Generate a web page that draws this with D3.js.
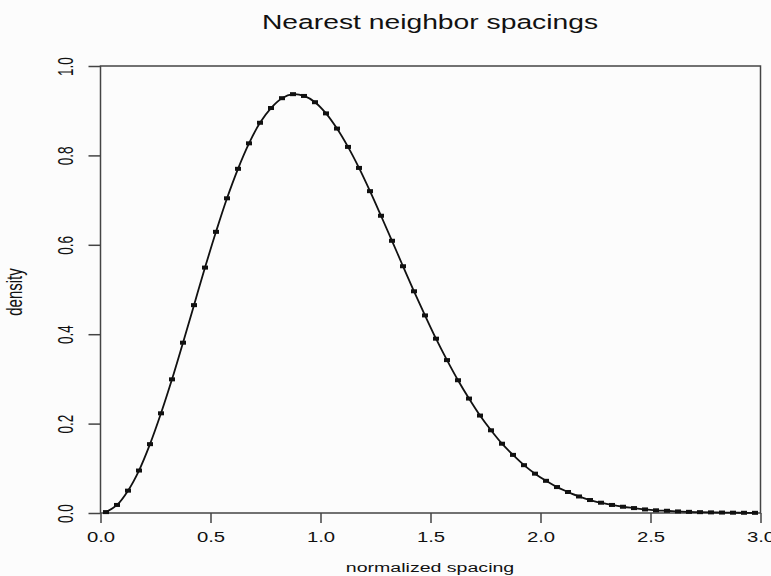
<!DOCTYPE html>
<html>
<head>
<meta charset="utf-8">
<script src="https://cdn.jsdelivr.net/npm/d3@7"></script>
<style>
    body { margin: 0; background: #fcfcfc; }
    text { font-family: "Liberation Sans", Arial, sans-serif; fill: #111; }
</style>
</head>
<body>
<script>
// bin centres of the normalized spacing histogram
var spacing = [0.025, 0.075, 0.125, 0.175, 0.225, 0.275, 0.325, 0.375, 0.425, 0.475,
    0.525, 0.575, 0.625, 0.675, 0.725, 0.775, 0.825, 0.875, 0.925, 0.975,
    1.025, 1.075, 1.125, 1.175, 1.225, 1.275, 1.325, 1.375, 1.425, 1.475,
    1.525, 1.575, 1.625, 1.675, 1.725, 1.775, 1.825, 1.875, 1.925, 1.975,
    2.025, 2.075, 2.125, 2.175, 2.225, 2.275, 2.325, 2.375, 2.425, 2.475,
    2.525, 2.575, 2.625, 2.675, 2.725, 2.775, 2.825, 2.875, 2.925, 2.975];
var density = [0.002, 0.018, 0.050, 0.095, 0.154, 0.223, 0.299, 0.381, 0.465, 0.549,
    0.629, 0.704, 0.770, 0.827, 0.873, 0.906, 0.928, 0.937, 0.933, 0.919,
    0.894, 0.860, 0.819, 0.772, 0.720, 0.665, 0.609, 0.552, 0.496, 0.442,
    0.390, 0.342, 0.297, 0.256, 0.218, 0.185, 0.155, 0.130, 0.107, 0.088,
    0.072, 0.058, 0.047, 0.037, 0.029, 0.023, 0.018, 0.014, 0.011, 0.008,
    0.006, 0.005, 0.0035, 0.0026, 0.0019, 0.0014, 0.0010, 0.0007, 0.0005, 0.0004];
var xTicks = [0, 0.5, 1, 1.5, 2, 2.5, 3];
var yTicks = [0, 0.2, 0.4, 0.6, 0.8, 1.0];

var w = 771, h = 576;
var stretch = 1.45; // the picture is wider than tall, text looks stretched

var svg = d3.select('body')
    .append('svg')
    .attr('width', w)
    .attr('height', h);

var x = d3.scaleLinear()
    .domain([0, 3])
    .range([100.5, 760.5]);
var y = d3.scaleLinear()
    .domain([0, 1])
    .range([513, 66]);

// box
svg.append('rect')
    .attr('x', x(0))
    .attr('y', y(1))
    .attr('width', x(3) - x(0))
    .attr('height', y(0) - y(1))
    .style('fill', 'none')
    .style('stroke', '#444')
    .style('stroke-width', 1.5);

var xAxis = svg.append('g')
    .attr('transform', 'translate(0,' + y(0) + ')')
    .call(d3.axisBottom(x).tickValues(xTicks).tickSize(10).tickSizeOuter(0)
        .tickFormat(d3.format('.1f')));
var yAxis = svg.append('g')
    .attr('transform', 'translate(' + x(0) + ',0)')
    .call(d3.axisLeft(y).tickValues(yTicks).tickSize(12).tickSizeOuter(0)
        .tickFormat(d3.format('.1f')));

svg.selectAll('.domain').remove();
svg.selectAll('.tick line')
    .style('stroke', '#444')
    .style('stroke-width', 1.5);

xAxis.selectAll('.tick text')
    .attr('y', 0)
    .attr('dy', 0)
    .attr('transform', 'translate(0,29) scale(' + stretch + ',1)')
    .style('font-size', '14px')
    .style('font-family', '"Liberation Sans", Arial, sans-serif')
    .style('fill', '#111');

yAxis.selectAll('.tick text')
    .attr('x', 0)
    .attr('dy', 0)
    .attr('text-anchor', 'middle')
    .attr('transform', 'translate(-28,0) scale(1.65,1) rotate(-90)')
    .style('font-size', '13.5px')
    .style('font-family', '"Liberation Sans", Arial, sans-serif')
    .style('fill', '#111');

// curve and markers
var pts = spacing.map(function(d, i) {
    return { s: d, p: density[i] };
});

var line = d3.line()
    .x(function(d) { return x(d.s); })
    .y(function(d) { return y(d.p); })
    .curve(d3.curveCatmullRom);

svg.append('path')
    .datum(pts)
    .attr('d', line)
    .style('fill', 'none')
    .style('stroke', '#111')
    .style('stroke-width', 1.8);

svg.selectAll('.marks')
    .data(pts)
    .enter()
    .append('rect')
    .attr('class', 'marks')
    .attr('x', function(d) { return x(d.s) - 3; })
    .attr('y', function(d) { return y(d.p) - 2; })
    .attr('width', 6)
    .attr('height', 4)
    .style('fill', '#111');

// titles
svg.append('text')
    .attr('text-anchor', 'middle')
    .attr('transform', 'translate(430,29) scale(' + stretch + ',1)')
    .style('font-size', '19.5px')
    .text('Nearest neighbor spacings');

svg.append('text')
    .attr('text-anchor', 'middle')
    .attr('transform', 'translate(430,572) scale(' + stretch + ',1)')
    .style('font-size', '13.5px')
    .text('normalized spacing');

svg.append('text')
    .attr('text-anchor', 'middle')
    .attr('transform', 'translate(22,292) scale(' + stretch + ',1) rotate(-90)')
    .style('font-size', '15px')
    .text('density');
</script>
</body>
</html>
